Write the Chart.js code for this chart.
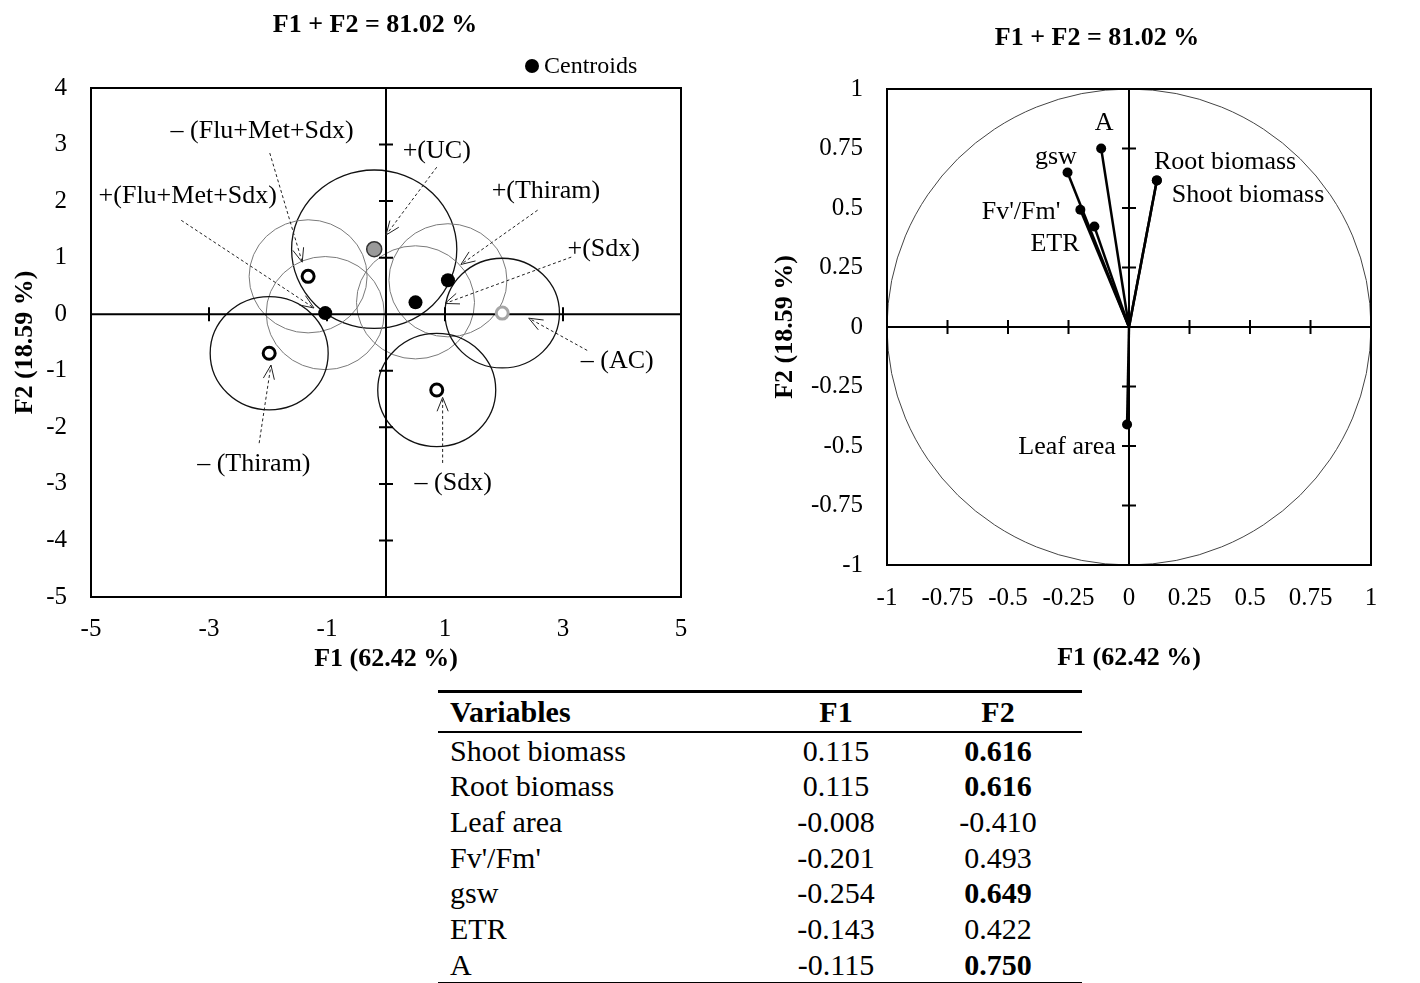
<!DOCTYPE html>
<html>
<head>
<meta charset="utf-8">
<script src="https://cdn.jsdelivr.net/npm/chart.js@4.4.1/dist/chart.umd.min.js"></script>
<style>
  html, body { margin: 0; padding: 0; background: #fff; overflow: hidden; }
  body { width: 1420px; height: 983px; position: relative; font-family: "Liberation Serif", "Times New Roman", serif; }
  #scoreCanvas { position: absolute; left: 0; top: 0; }
  #corrCanvas { position: absolute; left: 760px; top: 0; }
  #loadTable { position: absolute; left: 438px; top: 690px; width: 644px; border-collapse: collapse; font-size: 30px; color: #000; }
  #loadTable th, #loadTable td { padding: 0; white-space: nowrap; }
  #loadTable thead tr { height: 40px; border-top: 3px solid #000; border-bottom: 2px solid #000; }
  #loadTable tbody tr { height: 35.7px; line-height: 35.7px; }
  #loadTable tbody tr:last-child { border-bottom: 2px solid #000; }
  #loadTable .c1 { width: 316px; padding-left: 12px; text-align: left; }
  #loadTable .c2 { width: 140px; text-align: center; }
  #loadTable .c3 { width: 168px; padding-left: 8px; text-align: center; }
</style>
</head>
<body>
<canvas id="scoreCanvas" width="750" height="680"></canvas>
<canvas id="corrCanvas" width="660" height="690"></canvas>
<table id="loadTable">
  <thead><tr><th class="c1">Variables</th><th class="c2">F1</th><th class="c3">F2</th></tr></thead>
  <tbody></tbody>
</table>
<script>
// treatment groups, scores on F1/F2 and radius of their confidence circle
const groups = ['+(UC)', '+(Thiram)', '+(Sdx)', '+(Flu+Met+Sdx)', '– (Flu+Met+Sdx)', '– (Thiram)', '– (Sdx)', '– (AC)'];
const f1Scores = [-0.2, 1.05, 0.5, -1.03, -1.32, -1.98, 0.86, 1.97];
const f2Scores = [1.15, 0.6, 0.21, 0.02, 0.67, -0.69, -1.34, 0.02];
const circleRadius = [1.4, 1.0, 1.0, 1.0, 1.0, 1.0, 1.0, 0.97];

// variable loadings (table + correlation circle)
const variables = ['Shoot biomass', 'Root biomass', 'Leaf area', "Fv'/Fm'", 'gsw', 'ETR', 'A'];
const loadF1 = [0.115, 0.115, -0.008, -0.201, -0.254, -0.143, -0.115];
const loadF2 = [0.616, 0.616, -0.410, 0.493, 0.649, 0.422, 0.750];
const f2Bold = [true, true, false, false, true, false, true];

// tick labels
const scoreXTicks = [-5, -3, -1, 1, 3, 5];
const scoreYTicks = [-5, -4, -3, -2, -1, 0, 1, 2, 3, 4];
const corrTicks = [-1, -0.75, -0.5, -0.25, 0, 0.25, 0.5, 0.75, 1];

const titleText = 'F1 + F2 = 81.02 %';
const xTitle = 'F1 (62.42 %)';
const yTitle = 'F2 (18.59 %)';

Chart.defaults.font.family = '"Liberation Serif", "Times New Roman", serif';
Chart.defaults.color = '#000';

// marker / circle look per group
const groupStyle = {
  '+(UC)': { marker: 'grey', ring: 'dark' },
  '+(Thiram)': { marker: 'centroid', ring: 'light' },
  '+(Sdx)': { marker: 'centroid', ring: 'light' },
  '+(Flu+Met+Sdx)': { marker: 'centroid', ring: 'light' },
  '– (Flu+Met+Sdx)': { marker: 'open', ring: 'light' },
  '– (Thiram)': { marker: 'open', ring: 'dark' },
  '– (Sdx)': { marker: 'open', ring: 'dark' },
  '– (AC)': { marker: 'openGrey', ring: 'dark' }
};
const markers = {
  centroid: { pointRadius: 7, pointBackgroundColor: '#000', pointBorderColor: '#000', pointBorderWidth: 0 },
  grey: { pointRadius: 7.5, pointBackgroundColor: '#9a9a9a', pointBorderColor: '#333', pointBorderWidth: 1.5 },
  open: { pointRadius: 6, pointBackgroundColor: '#fff', pointBorderColor: '#000', pointBorderWidth: 3 },
  openGrey: { pointRadius: 6, pointBackgroundColor: '#fff', pointBorderColor: '#a6a6a6', pointBorderWidth: 3 }
};
const rings = { dark: { color: '#111', width: 1.3 }, light: { color: '#7a7a7a', width: 1 } };

// label placement (data units) and dashed arrow from label to point
const scoreNotes = {
  '– (Flu+Met+Sdx)': { at: [-2.10, 3.24], from: [-1.97, 2.85], to: [-1.42, 0.92] },
  '+(UC)': { at: [0.86, 2.88], from: [0.86, 2.60], to: [0.0, 1.40] },
  '+(Flu+Met+Sdx)': { at: [-3.36, 2.09], from: [-3.47, 1.66], to: [-1.22, 0.11] },
  '+(Thiram)': { at: [2.71, 2.17], from: [2.57, 1.84], to: [1.27, 0.88] },
  '+(Sdx)': { at: [3.69, 1.15], from: [3.14, 1.01], to: [1.0, 0.19] },
  '– (AC)': { at: [3.92, -0.83], from: [3.41, -0.64], to: [2.42, -0.07] },
  '– (Thiram)': { at: [-2.24, -2.65], from: [-2.15, -2.28], to: [-1.95, -0.90] },
  '– (Sdx)': { at: [1.14, -2.99], from: [0.96, -2.63], to: [0.96, -1.47] }
};
const corrNotes = {
  'Shoot biomass': [0.492, 0.555],
  'Root biomass': [0.397, 0.693],
  'Leaf area': [-0.256, -0.504],
  "Fv'/Fm'": [-0.446, 0.483],
  'gsw': [-0.302, 0.714],
  'ETR': [-0.306, 0.349],
  'A': [-0.103, 0.857]
};

function frameAndCross(chart, xTicks, yTicks) {
  const { ctx, chartArea: a, scales: { x, y } } = chart;
  const x0 = x.getPixelForValue(0), y0 = y.getPixelForValue(0);
  ctx.save();
  ctx.strokeStyle = '#000';
  ctx.lineWidth = 2;
  ctx.strokeRect(a.left, a.top, a.right - a.left, a.bottom - a.top);
  ctx.beginPath();
  ctx.moveTo(a.left, y0); ctx.lineTo(a.right, y0);
  ctx.moveTo(x0, a.top); ctx.lineTo(x0, a.bottom);
  xTicks.forEach(v => {
    if (v === 0 || v === x.min || v === x.max) return;
    const px = x.getPixelForValue(v);
    ctx.moveTo(px, y0 - 7); ctx.lineTo(px, y0 + 7);
  });
  yTicks.forEach(v => {
    if (v === 0 || v === y.min || v === y.max) return;
    const py = y.getPixelForValue(v);
    ctx.moveTo(x0 - 7, py); ctx.lineTo(x0 + 7, py);
  });
  ctx.stroke();
  ctx.restore();
}

function drawTitle(ctx, text, cx, cy) {
  ctx.save();
  ctx.font = 'bold 26px "Liberation Serif", serif';
  ctx.fillStyle = '#000';
  ctx.textAlign = 'center';
  ctx.textBaseline = 'middle';
  ctx.fillText(text, cx, cy);
  ctx.restore();
}

const scoreDecor = {
  id: 'scoreDecor',
  beforeDatasetsDraw(chart) {
    const { ctx, scales: { x, y } } = chart;
    // confidence circles
    groups.forEach((g, i) => {
      const cx = x.getPixelForValue(f1Scores[i]);
      const cy = y.getPixelForValue(f2Scores[i]);
      const rx = Math.abs(x.getPixelForValue(f1Scores[i] + circleRadius[i]) - cx);
      const ry = Math.abs(y.getPixelForValue(f2Scores[i] + circleRadius[i]) - cy);
      const r = rings[groupStyle[g].ring];
      ctx.save();
      ctx.strokeStyle = r.color;
      ctx.lineWidth = r.width;
      ctx.beginPath();
      ctx.ellipse(cx, cy, rx, ry, 0, 0, Math.PI * 2);
      ctx.stroke();
      ctx.restore();
    });
    frameAndCross(chart, scoreXTicks, scoreYTicks);
    // labels + dashed arrows
    ctx.save();
    ctx.font = '26px "Liberation Serif", serif';
    ctx.fillStyle = '#000';
    ctx.textAlign = 'center';
    ctx.textBaseline = 'middle';
    groups.forEach(g => {
      const n = scoreNotes[g];
      ctx.fillText(g, x.getPixelForValue(n.at[0]), y.getPixelForValue(n.at[1]));
      const sx = x.getPixelForValue(n.from[0]), sy = y.getPixelForValue(n.from[1]);
      const ex = x.getPixelForValue(n.to[0]), ey = y.getPixelForValue(n.to[1]);
      ctx.strokeStyle = '#222';
      ctx.lineWidth = 1;
      ctx.setLineDash([3, 2.5]);
      ctx.beginPath();
      ctx.moveTo(sx, sy); ctx.lineTo(ex, ey);
      ctx.stroke();
      ctx.setLineDash([]);
      const ang = Math.atan2(ey - sy, ex - sx);
      ctx.beginPath();
      [-0.38, 0.38].forEach(d => {
        ctx.moveTo(ex, ey);
        ctx.lineTo(ex - 15 * Math.cos(ang + d), ey - 15 * Math.sin(ang + d));
      });
      ctx.stroke();
    });
    ctx.restore();
  },
  afterDraw(chart) {
    const { ctx } = chart;
    drawTitle(ctx, titleText, 375, 25);
    // centroid legend
    ctx.save();
    ctx.fillStyle = '#000';
    ctx.beginPath();
    ctx.arc(532, 66, 7, 0, Math.PI * 2);
    ctx.fill();
    ctx.font = '24px "Liberation Serif", serif';
    ctx.textBaseline = 'middle';
    ctx.fillText('Centroids', 544, 67);
    ctx.restore();
  }
};

const corrDecor = {
  id: 'corrDecor',
  beforeDatasetsDraw(chart) {
    const { ctx, scales: { x, y } } = chart;
    const cx = x.getPixelForValue(0), cy = y.getPixelForValue(0);
    ctx.save();
    ctx.strokeStyle = '#444';
    ctx.lineWidth = 1;
    ctx.beginPath();
    ctx.ellipse(cx, cy, x.getPixelForValue(1) - cx, cy - y.getPixelForValue(1), 0, 0, Math.PI * 2);
    ctx.stroke();
    ctx.restore();
    frameAndCross(chart, corrTicks, corrTicks);
    ctx.save();
    ctx.font = '26px "Liberation Serif", serif';
    ctx.fillStyle = '#000';
    ctx.textAlign = 'center';
    ctx.textBaseline = 'middle';
    variables.forEach(v => {
      const p = corrNotes[v];
      ctx.fillText(v, x.getPixelForValue(p[0]), y.getPixelForValue(p[1]));
    });
    ctx.restore();
  },
  afterDraw(chart) {
    drawTitle(chart.ctx, titleText, 337, 38);
  }
};

function axisOpts(ticksArr, min, max, title, size, labelPad, titlePad) {
  return {
    type: 'linear', min, max,
    grid: { display: false, drawTicks: false },
    border: { display: false },
    afterBuildTicks: s => { s.ticks = ticksArr.map(v => ({ value: v })); },
    ticks: { autoSkip: false, maxRotation: 0, padding: labelPad, font: { size: 25 }, callback: v => String(v) },
    title: { display: true, text: title, font: { size: 26, weight: 'bold' }, padding: titlePad },
    afterFit: s => { if (s.isHorizontal()) s.height = size; else s.width = size; }
  };
}

new Chart(document.getElementById('scoreCanvas'), {
  type: 'scatter',
  data: {
    datasets: groups.map((g, i) => Object.assign({
      label: g,
      data: [{ x: f1Scores[i], y: f2Scores[i] }]
    }, markers[groupStyle[g].marker]))
  },
  options: {
    responsive: false,
    animation: false,
    events: [],
    layout: { padding: { top: 88, right: 69, left: 0, bottom: 0 } },
    plugins: { legend: { display: false }, tooltip: { enabled: false } },
    scales: {
      x: axisOpts(scoreXTicks, -5, 5, xTitle, 83, 17, { top: 0, bottom: 5 }),
      y: axisOpts(scoreYTicks, -5, 4, yTitle, 91, 24, { top: 10, bottom: 0 })
    }
  },
  plugins: [scoreDecor]
});

new Chart(document.getElementById('corrCanvas'), {
  type: 'scatter',
  data: {
    datasets: variables.map((v, i) => ({
      label: v,
      data: [{ x: 0, y: 0 }, { x: loadF1[i], y: loadF2[i] }],
      showLine: true,
      borderColor: '#000',
      borderWidth: 2.5,
      pointRadius: [0, 5],
      pointBackgroundColor: '#000',
      pointBorderWidth: 0
    }))
  },
  options: {
    responsive: false,
    animation: false,
    events: [],
    layout: { padding: { top: 89, right: 49, left: 0, bottom: 0 } },
    plugins: { legend: { display: false }, tooltip: { enabled: false } },
    scales: {
      x: axisOpts(corrTicks, -1, 1, xTitle, 125, 18, { top: 0, bottom: 16 }),
      y: axisOpts(corrTicks, -1, 1, yTitle, 127, 24, { top: 10, bottom: 0 })
    }
  },
  plugins: [corrDecor]
});

// loadings table
const tbody = document.querySelector('#loadTable tbody');
variables.forEach((v, i) => {
  const tr = document.createElement('tr');
  const f2 = loadF2[i].toFixed(3);
  tr.innerHTML = '<td class="c1">' + v + '</td><td class="c2">' + loadF1[i].toFixed(3) + '</td>' +
    '<td class="c3">' + (f2Bold[i] ? '<b>' + f2 + '</b>' : f2) + '</td>';
  tbody.appendChild(tr);
});
</script>
</body>
</html>
